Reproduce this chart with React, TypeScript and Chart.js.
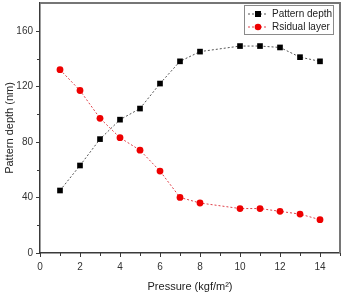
import React, { useEffect, useRef } from "react";
import { Chart, registerables } from "chart.js";

Chart.register(...registerables);

// Imprint pressure (kgf/m²)
const pressure = [1, 2, 3, 4, 5, 6, 7, 8, 10, 11, 12, 13, 14];
// Pattern depth (nm)
const patternDepth = [45, 63, 82, 96, 104, 122, 138, 145, 149, 149, 148, 141, 138];
// Residual layer thickness (nm)
const residualLayer = [132, 117, 97, 83, 74, 59, 40, 36, 32, 32, 30, 28, 24];

const seriesLabels = ["Pattern depth", "Rsidual layer"];
const xTitle = "Pressure (kgf/m²)";
const yTitle = "Pattern depth (nm)";

const FONT = "'Liberation Sans', Arial, sans-serif";

// Draws the plot frame, major/minor tick marks and the boxed legend.
const decorPlugin = {
  id: "decor",
  afterDraw(chart: any) {
    const { ctx, chartArea } = chart;
    const { left, right, top, bottom } = chartArea;
    const xs = chart.scales.x;
    const ys = chart.scales.y;
    ctx.save();

    // top and right frame lines
    ctx.strokeStyle = "#767676";
    ctx.lineWidth = 2;
    ctx.beginPath();
    ctx.moveTo(left, top);
    ctx.lineTo(right, top);
    ctx.lineTo(right, bottom);
    ctx.stroke();

    // tick marks, pointing outward
    ctx.strokeStyle = "#3a3a3a";
    ctx.lineWidth = 1;
    ctx.beginPath();
    for (let v = 0; v <= 15; v++) {
      const px = Math.round(xs.getPixelForValue(v)) + 0.5;
      const len = v % 2 === 0 ? 4 : 3;
      ctx.moveTo(px, bottom);
      ctx.lineTo(px, bottom + len);
    }
    for (let v = 0; v <= 160; v += 20) {
      const py = Math.round(ys.getPixelForValue(v)) + 0.5;
      const len = v % 40 === 0 ? 4 : 3;
      ctx.moveTo(left, py);
      ctx.lineTo(left - len, py);
    }
    ctx.stroke();

    // legend box
    const bx = right - 96;
    const by = top + 2;
    const bw = 89;
    const bh = 29;
    ctx.strokeStyle = "#8a8a8a";
    ctx.lineWidth = 1;
    ctx.strokeRect(bx + 0.5, by + 0.5, bw, bh);

    chart.data.datasets.forEach((ds: any, i: number) => {
      const cy = by + 9 + i * 13;
      const x0 = bx + 4;
      const x1 = bx + 24;
      ctx.strokeStyle = ds.borderColor;
      ctx.lineWidth = 1;
      ctx.setLineDash(ds.borderDash || []);
      ctx.beginPath();
      ctx.moveTo(x0, cy);
      ctx.lineTo(x1, cy);
      ctx.stroke();
      ctx.setLineDash([]);
      ctx.fillStyle = ds.pointBackgroundColor;
      const mx = (x0 + x1) / 2;
      if (ds.pointStyle === "rect") {
        ctx.fillRect(mx - 3, cy - 3, 6, 6);
      } else {
        ctx.beginPath();
        ctx.arc(mx, cy, 3.3, 0, Math.PI * 2);
        ctx.fill();
      }
      ctx.fillStyle = "#222";
      ctx.font = `10px ${FONT}`;
      ctx.textBaseline = "middle";
      ctx.textAlign = "left";
      ctx.fillText(ds.label, x1 + 4, cy + 0.5);
    });

    ctx.restore();
  },
};

export default function App() {
  const canvasRef = useRef<HTMLCanvasElement | null>(null);

  useEffect(() => {
    const canvas = canvasRef.current;
    if (!canvas) return;

    const chart = new Chart(canvas, {
      type: "line",
      data: {
        datasets: [
          {
            label: seriesLabels[0],
            data: pressure.map((p, i) => ({ x: p, y: patternDepth[i] })),
            borderColor: "#555555",
            borderWidth: 1,
            borderDash: [2, 2],
            pointStyle: "rect",
            pointRadius: 4,
            pointBackgroundColor: "#000000",
            pointBorderColor: "#000000",
            pointBorderWidth: 0,
            tension: 0,
          },
          {
            label: seriesLabels[1],
            data: pressure.map((p, i) => ({ x: p, y: residualLayer[i] })),
            borderColor: "#e0404a",
            borderWidth: 1,
            borderDash: [2, 2],
            pointStyle: "circle",
            pointRadius: 3.4,
            pointBackgroundColor: "#ee0000",
            pointBorderColor: "#ee0000",
            pointBorderWidth: 0,
            tension: 0,
          },
        ],
      },
      options: {
        responsive: false,
        animation: false,
        events: [],
        layout: { autoPadding: false, padding: { top: 3, right: 1, left: 0, bottom: 0 } },
        plugins: {
          legend: { display: false },
          tooltip: { enabled: false },
        },
        scales: {
          x: {
            type: "linear",
            min: 0,
            max: 15,
            afterFit(scale: any) {
              scale.height = 39;
              scale.paddingLeft = 0;
              scale.paddingRight = 0;
            },
            border: { display: true, color: "#3a3a3a", width: 1.5 },
            grid: { display: true, drawOnChartArea: false, drawTicks: false },
            ticks: {
              stepSize: 1,
              includeBounds: false,
              autoSkip: false,
              maxRotation: 0,
              padding: 8,
              color: "#333",
              font: { family: FONT, size: 10 },
              callback: (v: any) => (Number(v) % 2 === 0 && Number(v) <= 14 ? String(v) : ""),
            },
            title: {
              display: true,
              text: xTitle,
              color: "#222",
              font: { family: FONT, size: 11, lineHeight: 1 },
              padding: { top: 0, bottom: 0 },
            },
          },
          y: {
            type: "linear",
            min: 0,
            max: 180,
            afterFit(scale: any) {
              scale.width = 40;
              scale.paddingTop = 0;
              scale.paddingBottom = 0;
            },
            border: { display: true, color: "#3a3a3a", width: 1.5 },
            grid: { display: true, drawOnChartArea: false, drawTicks: false },
            ticks: {
              stepSize: 20,
              includeBounds: false,
              autoSkip: false,
              padding: 7,
              color: "#333",
              font: { family: FONT, size: 10 },
              callback: (v: any) => (Number(v) % 40 === 0 && Number(v) <= 160 ? String(v) : ""),
            },
            title: {
              display: true,
              text: yTitle,
              color: "#222",
              font: { family: FONT, size: 11, lineHeight: 1.2 },
              padding: { top: 3, bottom: 0 },
            },
          },
        },
      },
      plugins: [decorPlugin],
    });

    return () => chart.destroy();
  }, []);

  return (
    <div style={{ position: "fixed", left: 0, top: 0, width: 341, height: 292, background: "#fff" }}>
      <canvas ref={canvasRef} width={341} height={292} />
    </div>
  );
}
